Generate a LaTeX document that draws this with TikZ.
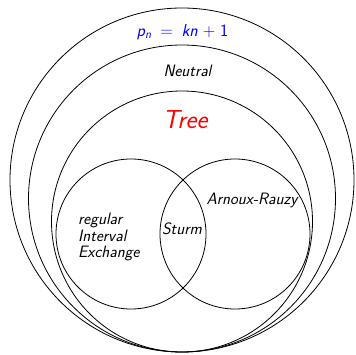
\documentclass[tikz,border=0pt]{standalone}
\usepackage{xcolor}
\usepackage{tikz}
\DeclareMathAlphabet{\mathsfsl}{OT1}{cmss}{m}{sl}
\tikzset{every picture/.style={line width=0.8pt}}
\tikzset{lbl/.style={inner sep=0.75pt, font=\fontsize{16.5}{16.5}\selectfont\sffamily\slshape}}

\begin{document}
\begin{tikzpicture}[x=1pt,y=1pt,yscale=-1,xscale=1]
    \useasboundingbox (0,0) rectangle (356,355);
    % nested classes, all touching at the bottom
    \draw   (182,180) circle (172) ;
    \draw   (182,198.5) circle (153.5) ;
    \draw   (182,221.5) circle (130.5) ;
    % the two inner families
    \draw   (131,234) circle (75) ;
    \draw   (235,234) circle (75) ;
    \node [lbl, text=blue] (complexity) at (182.5,32) {\thickmuskip=9mu\medmuskip=5mu$\mathsfsl{p}_{\mathsfsl{n}} = \mathsfsl{kn} + \mathsf{1}$};
    \node [lbl] (neutral) at (187.5,70.5) {Neutral};
    \node [lbl, text=red, font=\fontsize{26}{26}\selectfont\sffamily\slshape] (tree) at (185,120) {Tree};
    \node [lbl, align=left, anchor=west] (interval) at (77,237) {regular\\Interval\\Exchange};
    \node [lbl] (sturm) at (182,229) {Sturm};
    \node [lbl] (arnoux) at (252,200.5) {Arnoux-Rauzy};
\end{tikzpicture}
\end{document}
